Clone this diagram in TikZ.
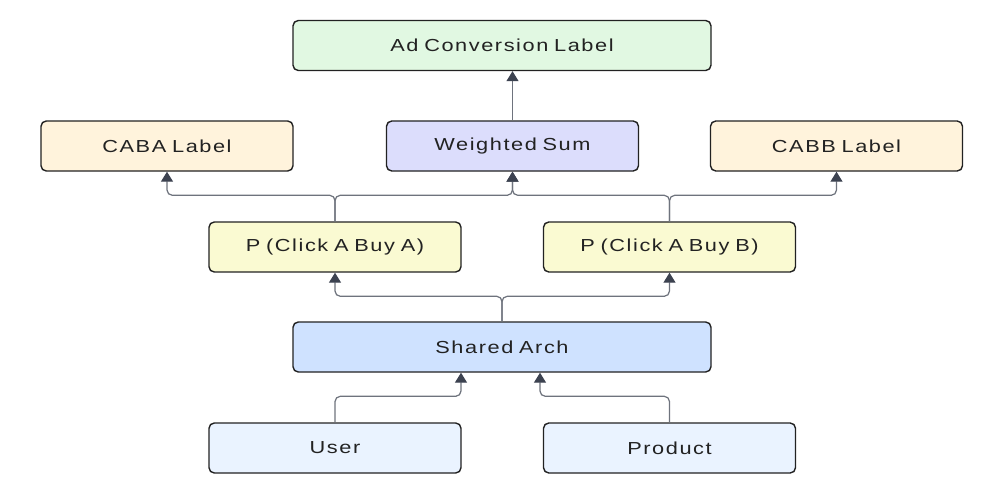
\documentclass[tikz,border=0pt]{standalone}
\usepackage{fontspec}
\usepackage{xcolor}
\usepackage{tikz}
\usetikzlibrary{arrows.meta, positioning, calc}
\newfontfamily\boxfont{Liberation Sans}[FakeStretch=1.25, LetterSpace=9]
\definecolor{mydark}{RGB}{34,34,34}
\definecolor{myline}{RGB}{110,115,125}
\definecolor{mytip}{RGB}{60,66,80}
\definecolor{hdrgreen}{RGB}{225,248,226}
\definecolor{hdrorange}{RGB}{255,243,220}
\definecolor{hdrpurple}{RGB}{220,221,252}
\definecolor{hdryellow}{RGB}{250,250,210}
\definecolor{hdrblue}{RGB}{207,226,255}
\definecolor{hdrpale}{RGB}{234,243,255}
\tikzset{
  box/.style={rectangle, draw=mydark, text width=4.6cm, align=center,
    minimum width=5.04cm, minimum height=1.0cm, inner sep=0pt,
    font=\boxfont\fontsize{9.9}{11}\selectfont, rounded corners=3pt,
    line width=0.8pt, text=mydark},
  widebox/.style={box, text width=8cm, minimum width=8.36cm},
  arrow/.style={-{Triangle[width=0.24cm, length=0.2cm, color=mytip]},
    color=myline, line width=0.7pt, rounded corners=3pt}
}

\begin{document}
\begin{tikzpicture}[x=1cm, y=1cm]
  \useasboundingbox (0,0) rectangle (20.12,9.92);

  % ── Top row ───────────────────────────────────────────────────────
  \node[widebox, fill=hdrgreen] (adconv) at (10.04, 9.01) {Ad Conversion Label};

  % ── Label row ─────────────────────────────────────────────────────
  \node[box, fill=hdrorange] (caba) at (3.34, 7.00)  {CABA Label};
  \node[box, fill=hdrpurple] (wsum) at (10.25, 7.00) {Weighted Sum};
  \node[box, fill=hdrorange] (cabb) at (16.73, 7.00) {CABB Label};

  % ── Task heads ────────────────────────────────────────────────────
  \node[box, fill=hdryellow] (pa) at (6.70, 4.98)  {P (Click A Buy A)};
  \node[box, fill=hdryellow] (pb) at (13.39, 4.98) {P (Click A Buy B)};

  % ── Shared tower and inputs ───────────────────────────────────────
  \node[widebox, fill=hdrblue] (shared) at (10.04, 2.98) {Shared Arch};
  \node[box, fill=hdrpale] (user)    at (6.70, 0.96)  {User};
  \node[box, fill=hdrpale] (product) at (13.39, 0.96) {Product};

  % ── Connectors ────────────────────────────────────────────────────
  \draw[arrow] (user.north) -- ++(0,0.52) -| ($(shared.south)+(-0.82,0)$);
  \draw[arrow] (product.north) -- ++(0,0.52) -| ($(shared.south)+(0.76,0)$);
  \draw[arrow] (shared.north) -- ++(0,0.5) -| (pa.south);
  \draw[arrow] (shared.north) -- ++(0,0.5) -| (pb.south);
  \draw[arrow] (pa.north) -- ++(0,0.52) -| (caba.south);
  \draw[arrow] (pa.north) -- ++(0,0.52) -| (wsum.south);
  \draw[arrow] (pb.north) -- ++(0,0.52) -| (cabb.south);
  \draw[arrow] (pb.north) -- ++(0,0.52) -| (wsum.south);
  \draw[arrow] (wsum.north) -- (wsum.north |- adconv.south);
\end{tikzpicture}
\end{document}
